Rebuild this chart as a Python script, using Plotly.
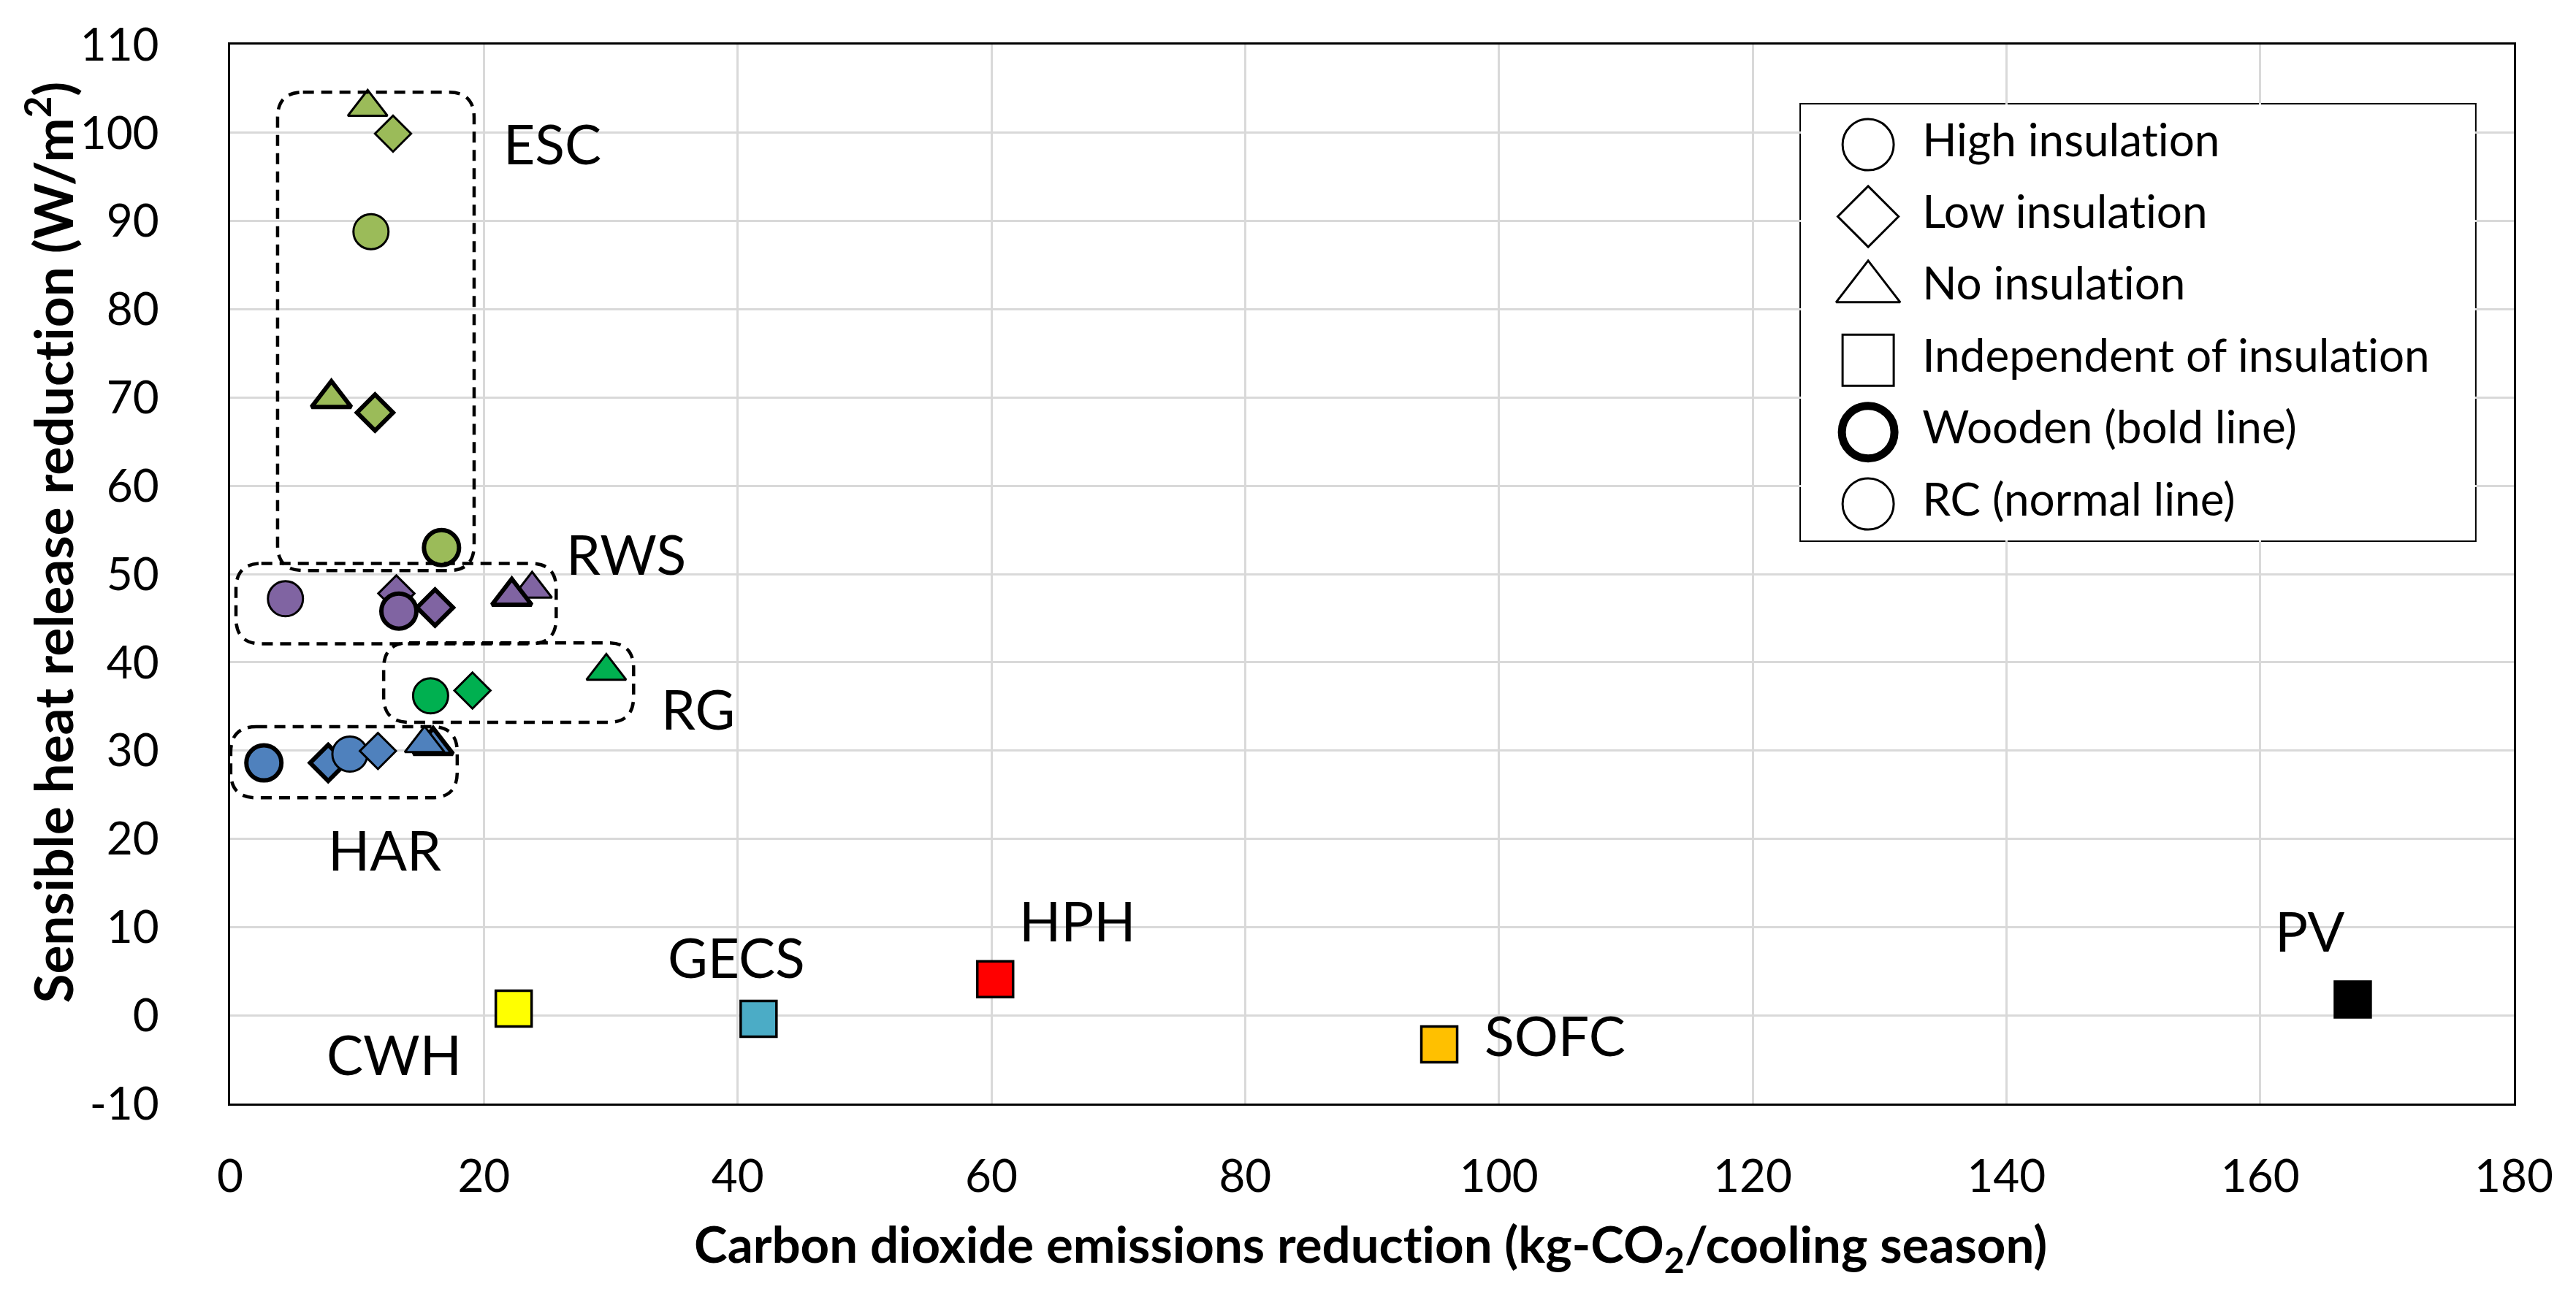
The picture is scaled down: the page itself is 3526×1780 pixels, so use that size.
import plotly.graph_objects as go

# ---------------- data ----------------
# ESC group
esc_x = [12.84, 10.84, 11.10, 7.98, 11.42, 16.66]
esc_y = [99.9, 102.9, 88.8, 69.9, 68.3, 53.0]
esc_insulation = ["Low", "No", "High", "No", "Low", "High"]
esc_structure = ["RC", "RC", "RC", "Wooden", "Wooden", "Wooden"]

# RWS group
rws_x = [4.36, 13.1, 23.8, 13.3, 16.15, 22.2]
rws_y = [47.2, 47.8, 48.3, 45.8, 46.2, 47.5]
rws_insulation = ["High", "Low", "No", "High", "Low", "No"]
rws_structure = ["RC", "RC", "RC", "Wooden", "Wooden", "Wooden"]

# RG group
rg_x = [15.8, 19.1, 29.65]
rg_y = [36.2, 36.8, 39.0]
rg_insulation = ["High", "Low", "No"]
rg_structure = ["RC", "RC", "RC"]

# HAR group
har_x = [2.66, 7.73, 16.0, 9.44, 11.65, 15.33]
har_y = [28.6, 28.6, 30.6, 29.6, 29.95, 30.8]
har_insulation = ["High", "Low", "No", "High", "Low", "No"]
har_structure = ["Wooden", "Wooden", "Wooden", "RC", "RC", "RC"]

# Systems independent of insulation
indep_names = ["CWH", "GECS", "HPH", "SOFC", "PV"]
indep_x = [22.35, 41.65, 60.3, 95.3, 167.3]
indep_y = [0.75, -0.4, 4.1, -3.3, 1.8]

x_ticks = [0, 20, 40, 60, 80, 100, 120, 140, 160, 180]
y_ticks = [-10, 0, 10, 20, 30, 40, 50, 60, 70, 80, 90, 100, 110]

legend_labels = ["High insulation", "Low insulation", "No insulation",
                 "Independent of insulation", "Wooden (bold line)", "RC (normal line)"]

x_title = "Carbon dioxide emissions reduction (kg-CO<sub>2</sub>/cooling season)"
y_title = "Sensible heat release reduction (W/m<sup>2</sup>)"

# ---------------- styles ----------------
group_colors = {"ESC": "#9BBB59", "RWS": "#8064A2", "RG": "#00B050", "HAR": "#4F81BD"}
indep_colors = ["#FFFF00", "#4BACC6", "#FF0000", "#FFC000", "#000000"]
symbol_map = {"High": "circle", "Low": "diamond", "No": "triangle-up"}
size_map = {"High": 48, "Low": 38, "No": 47}
line_map = {"Wooden": 6, "RC": 3}

FONT = "Lato"


def nolig(s):
    # break Lato's "ti" ligature with an invisible zero-width non-joiner
    return s.replace("ti", "t\u200ci")


fig = go.Figure()

groups = [
    ("ESC", esc_x, esc_y, esc_insulation, esc_structure),
    ("RWS", rws_x, rws_y, rws_insulation, rws_structure),
    ("RG", rg_x, rg_y, rg_insulation, rg_structure),
    ("HAR", har_x, har_y, har_insulation, har_structure),
]
for name, xs, ys, ins, st in groups:
    fig.add_trace(go.Scatter(
        x=xs, y=ys, mode="markers", name=name, showlegend=False,
        marker=dict(
            symbol=[symbol_map[i] for i in ins],
            size=[size_map[i] for i in ins],
            color=group_colors[name], opacity=1,
            line=dict(color="black", width=[line_map[s] for s in st]),
        ),
        hoverinfo="x+y+name",
    ))

fig.add_trace(go.Scatter(
    x=indep_x, y=indep_y, mode="markers", showlegend=False,
    text=indep_names, hoverinfo="text+x+y",
    marker=dict(symbol="square", size=49, color=indep_colors, opacity=1,
                line=dict(color="black", width=3.5)),
))

# ---------------- custom legend (large symbols) ----------------
legend_symbols = ["circle", "diamond", "triangle-up", "square", "circle", "circle"]
legend_sizes = [70, 64, 76, 70, 72, 70]
legend_lw = [3, 3, 3, 3, 11, 3]
rows = list(range(len(legend_labels)))
fig.add_trace(go.Scatter(
    x=[0] * len(rows), y=rows, mode="markers", xaxis="x2", yaxis="y2",
    showlegend=False, hoverinfo="skip",
    marker=dict(symbol=legend_symbols, size=legend_sizes, color="white", opacity=1,
                line=dict(color="black", width=legend_lw)),
))
fig.add_trace(go.Scatter(
    x=[0.95] * len(rows), y=rows, mode="text", xaxis="x2", yaxis="y2",
    text=[nolig(s) for s in legend_labels], textposition="middle right",
    textfont=dict(family=FONT, size=62, color="black"),
    showlegend=False, hoverinfo="skip",
))

# ---------------- group boxes (rounded, dashed) ----------------
box_names = ["ESC", "RWS", "RG", "HAR"]
box_x0 = [3.74, 0.46, 12.1, 0.05]
box_x1 = [19.23, 25.7, 31.8, 17.9]
box_y0 = [50.4, 42.1, 33.2, 24.65]
box_y1 = [104.6, 51.2, 42.2, 32.7]
rx, ry = 2.0, 2.9


def rounded(x0, x1, y0, y1):
    return (f"M {x0+rx},{y1} L {x1-rx},{y1} Q {x1},{y1} {x1},{y1-ry} "
            f"L {x1},{y0+ry} Q {x1},{y0} {x1-rx},{y0} "
            f"L {x0+rx},{y0} Q {x0},{y0} {x0},{y0+ry} "
            f"L {x0},{y1-ry} Q {x0},{y1} {x0+rx},{y1} Z")


shapes = []
for i in range(len(box_names)):
    shapes.append(dict(type="path", xref="x", yref="y",
                       path=rounded(box_x0[i], box_x1[i], box_y0[i], box_y1[i]),
                       line=dict(color="black", width=4.5, dash="15px,10px"),
                       layer="above"))
# legend frame
shapes.append(dict(type="rect", xref="paper", yref="paper",
                   x0=0.6878, x1=0.9830, y0=0.5317, y1=0.9434,
                   line=dict(color="black", width=4), fillcolor="white",
                   layer="between"))

# ---------------- labels ----------------
label_text = ["ESC", "RWS", "RG", "HAR", "HPH", "GECS", "CWH", "SOFC", "PV"]
label_x = [25.4, 31.2, 36.9, 12.2, 66.8, 39.9, 12.9, 104.4, 163.9]
label_y = [98.85, 52.3, 34.8, 18.8, 10.8, 6.6, -4.4, -2.2, 9.6]
annotations = []
for t, lx, ly in zip(label_text, label_x, label_y):
    annotations.append(dict(x=lx, y=ly, xref="x", yref="y", text=t,
                            showarrow=False, xanchor="center", yanchor="middle",
                            font=dict(family=FONT, size=75, color="black")))

annotations.append(dict(
    x=0.4995, y=-0.135, xref="paper", yref="paper", showarrow=False,
    text="<b>" + nolig(x_title) + "</b>",
    xanchor="center", yanchor="middle",
    font=dict(family=FONT, size=69, color="black")))
annotations.append(dict(
    x=-0.079, y=0.530, xref="paper", yref="paper", showarrow=False,
    text="<b>" + nolig(y_title) + "</b>",
    textangle=-90, xanchor="center", yanchor="middle",
    font=dict(family=FONT, size=73, color="black")))

axis_common = dict(
    showgrid=True, gridcolor="#D9D9D9", gridwidth=3,
    showline=True, mirror=True, linecolor="black", linewidth=3,
    zeroline=False, ticks="",
    tickfont=dict(family=FONT, size=62, color="black"),
)

# the page body adds an 8px offset, so the figure is sized/margined to compensate
fig.update_layout(
    width=3510, height=1764, autosize=False,
    margin=dict(l=307, r=77, t=53, b=261, pad=0),
    paper_bgcolor="white", plot_bgcolor="white",
    xaxis=dict(range=[0, 180], tickvals=x_ticks, ticktext=[str(v) for v in x_ticks],
               ticklabelstandoff=44, **axis_common),
    yaxis=dict(range=[-10, 110], tickvals=y_ticks, ticktext=[str(v) for v in y_ticks],
               ticklabelstandoff=82, **axis_common),
    xaxis2=dict(domain=[0.6878, 0.9830], range=[-1.18, 10.65], visible=False,
                anchor="y2", fixedrange=True),
    yaxis2=dict(domain=[0.5317, 0.9434], range=[5.508, -0.559], visible=False,
                anchor="x2", fixedrange=True),
    shapes=shapes,
    annotations=annotations,
    font=dict(family=FONT, color="black"),
    showlegend=False,
)

fig.write_html("out.html")
